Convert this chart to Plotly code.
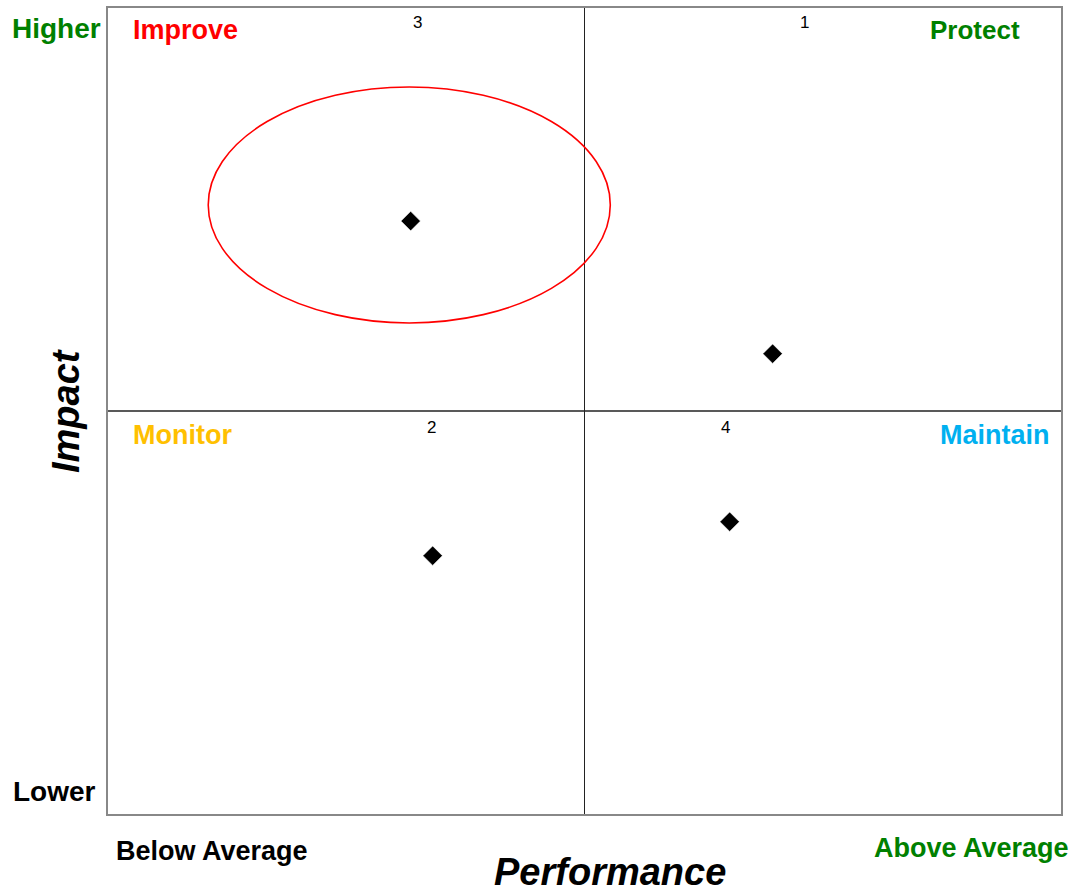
import plotly.graph_objects as go

# Data
point_ids = ["1", "2", "3", "4"]
performance = [69.7, 34.1, 31.8, 65.2]
impact = [57.1, 32.1, 73.5, 36.3]
label_x = [73.0, 34.0, 32.5, 64.8]
label_y = [98.1, 48.0, 98.1, 48.0]
x_mid = 50
y_mid = 50
highlight = dict(x0=10.6, x1=52.7, y0=60.9, y1=90.1)

FONT = "Liberation Sans, Arial, sans-serif"

fig = go.Figure()
fig.add_trace(go.Scatter(
    x=performance, y=impact, mode="markers",
    marker=dict(symbol="diamond", size=15, color="black",
                line=dict(color="white", width=0.6)),
    hoverinfo="skip", showlegend=False))

shapes = [
    dict(type="line", x0=x_mid, x1=x_mid, y0=0, y1=100, xref="x", yref="y",
         line=dict(color="#222222", width=1)),
    dict(type="line", x0=0, x1=100, y0=y_mid, y1=y_mid, xref="x", yref="y",
         line=dict(color="#222222", width=1.3)),
    dict(type="circle", xref="x", yref="y", line=dict(color="#ff0000", width=1.6),
         **highlight),
    dict(type="rect", xref="paper", yref="paper", x0=0, x1=1, y0=0, y1=1,
         line=dict(color="#888888", width=2)),
]

ann = []
for lab, lx, ly in zip(point_ids, label_x, label_y):
    ann.append(dict(x=lx, y=ly, xref="x", yref="y", text=lab, showarrow=False,
                    font=dict(family=FONT, size=17, color="black")))

def txt(text, x, y, color, size=27, xanchor="center", italic=False, angle=0):
    t = f"<b><i>{text}</i></b>" if italic else f"<b>{text}</b>"
    ann.append(dict(x=x, y=y, xref="paper", yref="paper", text=t, showarrow=False,
                    xanchor=xanchor, yanchor="middle", textangle=angle,
                    font=dict(family=FONT, size=size, color=color)))

txt("Higher", -0.0534, 0.974, "#008000", 28)
txt("Lower", -0.0545, 0.0297, "black", 28)
txt("Improve", 0.0251, 0.9715, "#ff0000", 27, xanchor="left")
txt("Protect", 0.958, 0.9715, "#008000", 26, xanchor="right")
txt("Monitor", 0.0251, 0.470, "#ffc000", 27, xanchor="left")
txt("Maintain", 0.9895, 0.470, "#00b0f0", 27, xanchor="right")
txt("Below Average", 0.110, -0.0446, "black", 27)
txt("Above Average", 0.905, -0.0408, "#008000", 27)
txt("Impact", -0.0429, 0.5, "black", 38, italic=True, angle=-90)
txt("Performance", 0.5267, -0.0705, "black", 38, italic=True)

fig.update_layout(
    width=1069, height=896,
    margin=dict(l=107, r=7, t=7, b=81),
    plot_bgcolor="white", paper_bgcolor="white",
    xaxis=dict(range=[0, 100], showgrid=False, zeroline=False, showticklabels=False,
               ticks="", showline=False),
    yaxis=dict(range=[0, 100], showgrid=False, zeroline=False, showticklabels=False,
               ticks="", showline=False),
    shapes=shapes, annotations=ann,
)

fig.write_html("out.html", config={"displayModeBar": False},
               post_script="document.body.style.margin='0';document.body.style.overflow='hidden';")
